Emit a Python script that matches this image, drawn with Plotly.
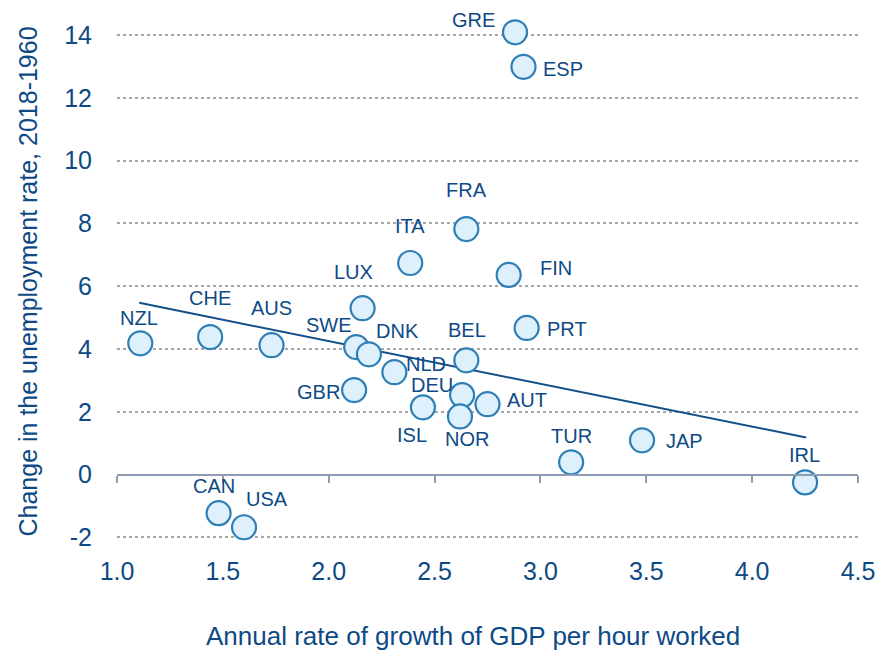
import plotly.graph_objects as go

countries = ['GRE', 'ESP', 'FRA', 'ITA', 'FIN', 'LUX', 'PRT', 'NZL', 'CHE', 'AUS', 'SWE', 'DNK',
             'BEL', 'NLD', 'GBR', 'DEU', 'AUT', 'ISL', 'NOR', 'TUR', 'JAP', 'IRL', 'CAN', 'USA']
gdp_growth = [2.88, 2.92, 2.65, 2.385, 2.85, 2.16, 2.935, 1.11, 1.44, 1.73, 2.13, 2.19,
              2.65, 2.31, 2.12, 2.63, 2.75, 2.445, 2.62, 3.145, 3.48, 4.25, 1.48, 1.60]
unemp_change = [14.09, 12.99, 7.82, 6.74, 6.36, 5.30, 4.67, 4.18, 4.38, 4.12, 4.06, 3.83,
                3.64, 3.26, 2.69, 2.53, 2.24, 2.14, 1.85, 0.39, 1.09, -0.25, -1.23, -1.68]

trend_x = [1.105, 4.255]
trend_y = [5.47, 1.18]

x_ticks = [1.0, 1.5, 2.0, 2.5, 3.0, 3.5, 4.0, 4.5]
y_ticks = [-2, 0, 2, 4, 6, 8, 10, 12, 14]

# label offsets in pixels (x, y up)
label_offsets = {
    'GRE': (-42, 12), 'ESP': (40, -2), 'FRA': (0, 39), 'ITA': (0, 37), 'FIN': (47, 7),
    'LUX': (-9, 36), 'PRT': (40, -1), 'NZL': (-1, 25), 'CHE': (0, 39), 'AUS': (0, 37),
    'SWE': (-27, 22), 'DNK': (29, 23), 'BEL': (1, 30), 'NLD': (32, 8), 'GBR': (-36, -2),
    'DEU': (-30, 10), 'AUT': (39, 4), 'ISL': (-11, -28), 'NOR': (7, -23), 'TUR': (0, 26),
    'JAP': (42, -1), 'IRL': (-1, 27), 'CAN': (-5, 27), 'USA': (23, 28),
}

navy = '#0d4a85'
font = 'Arial, Liberation Sans, sans-serif'

fig = go.Figure()
fig.add_trace(go.Scatter(x=trend_x, y=trend_y, mode='lines',
                         line=dict(color='#124f8a', width=2), hoverinfo='skip'))
fig.add_trace(go.Scatter(x=gdp_growth, y=unemp_change, mode='markers', text=countries,
                         marker=dict(size=24, color='#ddf0fc', line=dict(color='#2e7fb6', width=2.2)),
                         cliponaxis=False))

for c, x, y in zip(countries, gdp_growth, unemp_change):
    dx, dy = label_offsets[c]
    fig.add_annotation(x=x, y=y, text=c, showarrow=False, xshift=dx, yshift=dy,
                       xanchor='center', yanchor='middle',
                       font=dict(size=20, color=navy, family=font))

fig.update_layout(
    width=879, height=651,
    margin=dict(l=117, r=21, t=10, b=98),
    paper_bgcolor='white', plot_bgcolor='white',
    showlegend=False,
    font=dict(family=font, color=navy),
    xaxis=dict(range=[1.0, 4.5], tickvals=x_ticks, ticktext=[f'{v:.1f}' for v in x_ticks],
               showgrid=False, zeroline=False, showline=False, ticks='', automargin=False,
               tickfont=dict(size=25, color=navy), ticklabelstandoff=1),
    xaxis2=dict(range=[1.0, 4.5], overlaying='x', matches='x', anchor='free', position=2.5 / 17.3,
                side='bottom', showline=True, linecolor='#8d9bb5', linewidth=2, automargin=False,
                ticks='outside', ticklen=7, tickwidth=1.5, tickcolor='#8d9bb5',
                tickvals=x_ticks, showticklabels=False, showgrid=False, zeroline=False),
    yaxis=dict(range=[-2.5, 14.8], tickvals=y_ticks, ticktext=[str(v) for v in y_ticks],
               showgrid=True, gridcolor='#a6a6a6', griddash='dot', gridwidth=1.5,
               zeroline=False, showline=False, ticks='', automargin=False,
               tickfont=dict(size=25, color=navy), ticklabelstandoff=24),
)

# invisible trace to make sure the zero axis is drawn
fig.add_trace(go.Scatter(x=[1.0], y=[0], xaxis='x2', mode='markers',
                         marker=dict(opacity=0), hoverinfo='skip'))

fig.add_annotation(xref='paper', yref='paper', x=0.5, xshift=-15, y=0, yshift=-83,
                   text='Annual rate of growth of GDP per hour worked', showarrow=False,
                   xanchor='center', yanchor='middle', font=dict(size=26, color=navy, family=font))
fig.add_annotation(xref='paper', yref='paper', x=0, xshift=-90, y=0.5,
                   text='Change in the unemployment rate, 2018-1960', textangle=-90, showarrow=False,
                   xanchor='center', yanchor='middle', font=dict(size=25, color=navy, family=font))

fig.write_html('out.html', config={'displayModeBar': False},
               post_script="document.body.style.margin='0';")
